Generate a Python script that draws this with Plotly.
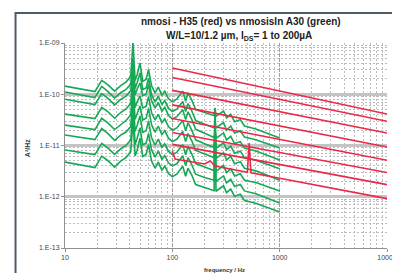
import plotly.graph_objects as go

# ---------------- data ----------------
FREQ_GREEN = [10, 14, 19, 22, 25, 29, 33, 37, 41, 43, 45, 47, 50, 53, 57, 60, 64, 69, 74, 80,
              85, 92, 100, 110, 125, 133, 140, 152, 165, 200, 245, 250, 255, 300, 320, 350,
              380, 430, 470, 600, 1000]

GREEN_1 = [1.44e-10, 1.27e-10, 1.13e-10, 1.87e-10, 1.54e-10, 1.15e-10, 1.47e-10, 1.73e-10, 2.24e-10, 1.05e-9,
           1.85e-10, 2.4e-10, 4.07e-10, 1.8e-10, 1.95e-10, 3.04e-10, 1.47e-10, 1.06e-10, 1.38e-10, 9.5e-11,
           1.15e-10, 8.25e-11, 7.1e-11, 8.0e-11, 1.15e-10, 7.3e-11, 1.06e-10, 7.6e-11, 5.0e-11, 4.4e-11,
           3.8e-11, 5.4e-11, 3.7e-11, 4.7e-11, 3.45e-11, 4.05e-11, 2.9e-11, 3.2e-11, 2.4e-11, 2.1e-11, 1.4e-11]
GREEN_2 = [1.11e-10, 9.7e-11, 8.6e-11, 1.42e-10, 1.14e-10, 8.4e-11, 1.07e-10, 1.24e-10, 1.58e-10, 5.1e-10,
           1.29e-10, 1.67e-10, 2.6e-10, 1.24e-10, 1.33e-10, 2.06e-10, 9.8e-11, 7.06e-11, 9.2e-11, 6.3e-11,
           7.5e-11, 5.35e-11, 4.6e-11, 5.1e-11, 7.2e-11, 4.6e-11, 6.6e-11, 4.7e-11, 3.07e-11, 2.6e-11,
           2.2e-11, 3.4e-11, 2.2e-11, 2.8e-11, 2.0e-11, 2.4e-11, 1.75e-11, 1.94e-11, 1.46e-11, 1.3e-11, 8.9e-12]
GREEN_3 = [8.0e-11, 7.1e-11, 6.3e-11, 1.03e-10, 8.4e-11, 6.2e-11, 7.9e-11, 9.2e-11, 1.18e-10, 3.55e-10,
           9.7e-11, 1.26e-10, 1.66e-10, 9.4e-11, 1.0e-10, 1.56e-10, 7.5e-11, 5.4e-11, 6.9e-11, 4.7e-11,
           5.55e-11, 3.9e-11, 3.3e-11, 3.65e-11, 5.0e-11, 3.2e-11, 4.55e-11, 3.2e-11, 2.07e-11, 1.73e-11,
           1.43e-11, 2.4e-11, 1.38e-11, 1.76e-11, 1.29e-11, 1.51e-11, 1.09e-11, 1.19e-11, 8.9e-12, 7.85e-12, 5.2e-12]
GREEN_4 = [4.1e-11, 3.7e-11, 3.35e-11, 5.55e-11, 4.6e-11, 3.4e-11, 4.4e-11, 5.15e-11, 6.65e-11, 2.27e-10,
           5.5e-11, 7.1e-11, 9.2e-11, 5.4e-11, 5.8e-11, 9.0e-11, 4.4e-11, 3.15e-11, 4.05e-11, 2.76e-11,
           3.3e-11, 2.34e-11, 1.99e-11, 2.2e-11, 3.06e-11, 1.94e-11, 2.78e-11, 1.97e-11, 1.29e-11, 1.08e-11,
           9.1e-12, 2.4e-11, 8.8e-12, 1.13e-11, 8.3e-12, 9.75e-12, 7.05e-12, 7.75e-12, 5.8e-12, 5.15e-12, 3.5e-12]
GREEN_5 = [2.5e-11, 2.25e-11, 2.04e-11, 3.4e-11, 2.76e-11, 2.05e-11, 2.6e-11, 3.07e-11, 3.95e-11, 1.45e-10,
           3.25e-11, 4.2e-11, 5.9e-11, 3.15e-11, 3.4e-11, 5.3e-11, 2.55e-11, 1.83e-11, 2.38e-11, 1.63e-11,
           1.95e-11, 1.39e-11, 1.19e-11, 1.32e-11, 1.87e-11, 1.19e-11, 1.71e-11, 1.22e-11, 8.0e-12, 6.8e-12,
           5.8e-12, 2.75e-11, 5.6e-12, 7.2e-12, 5.25e-12, 6.15e-12, 4.4e-12, 4.85e-12, 3.6e-12, 3.2e-12, 2.1e-12]
GREEN_6 = [1.6e-11, 1.44e-11, 1.3e-11, 2.14e-11, 1.72e-11, 1.26e-11, 1.59e-11, 1.83e-11, 2.34e-11, 9.2e-11,
           1.9e-11, 2.46e-11, 3.76e-11, 1.81e-11, 1.94e-11, 3.0e-11, 1.43e-11, 1.02e-11, 1.33e-11, 9.1e-12,
           1.08e-11, 7.75e-12, 6.65e-12, 7.35e-12, 1.04e-11, 6.6e-12, 9.5e-12, 6.8e-12, 4.45e-12, 3.8e-12,
           3.25e-12, 3.0e-11, 3.14e-12, 4.05e-12, 2.96e-12, 3.5e-12, 2.54e-12, 2.8e-12, 2.1e-12, 1.89e-12, 1.3e-12]
GREEN_7 = [8.2e-12, 7.35e-12, 6.65e-12, 1.1e-11, 9.0e-12, 6.7e-12, 8.55e-12, 1.0e-11, 1.29e-11, 5.4e-11,
           1.05e-11, 1.38e-11, 2.2e-11, 1.03e-11, 1.11e-11, 1.72e-11, 8.3e-12, 5.95e-12, 7.8e-12, 5.35e-12,
           6.4e-12, 4.6e-12, 4.0e-12, 4.4e-12, 6.3e-12, 4.05e-12, 5.8e-12, 4.2e-12, 2.75e-12, 2.38e-12,
           2.1e-12, 3.76e-11, 2.0e-12, 2.55e-12, 1.86e-12, 2.19e-12, 1.58e-12, 1.73e-12, 1.3e-12, 1.14e-12, 7.55e-13]
GREEN_8 = [4.75e-12, 4.2e-12, 3.7e-12, 6.2e-12, 5.1e-12, 3.8e-12, 4.95e-12, 5.8e-12, 7.6e-12, 3.15e-11,
           6.25e-12, 8.1e-12, 1.4e-11, 6.1e-12, 6.7e-12, 1.04e-11, 5.0e-12, 3.6e-12, 4.75e-12, 3.28e-12,
           3.95e-12, 2.85e-12, 2.45e-12, 2.75e-12, 3.95e-12, 2.52e-12, 3.6e-12, 2.62e-12, 1.73e-12, 1.52e-12,
           1.31e-12, 4.7e-11, 1.28e-12, 1.64e-12, 1.2e-12, 1.41e-12, 1.02e-12, 1.12e-12, 8.4e-13, 7.45e-13, 5.05e-13]

FREQ_RED = [100, 1000, 10000]
RED_1 = [3.25e-10, 1.16e-10, 4.1e-11]
RED_2 = [2.12e-10, 7.9e-11, 2.97e-11]
RED_3 = [1.19e-10, 4.6e-11, 1.75e-11]
RED_4 = [6.2e-11, 2.4e-11, 9.35e-12]
RED_5 = [3.36e-11, 1.32e-11, 5.15e-12]
RED_6 = [1.79e-11, 7.3e-12, 2.97e-12]
RED_7 = [1.05e-11, 4.25e-12, 1.72e-12]
FREQ_RED_8 = [100, 106, 200, 225, 250, 500, 520, 540, 1000, 10000]
RED_8 = [7.8e-12, 5.45e-12, 4.35e-12, 4.98e-12, 3.96e-12, 3.0e-12, 1.12e-11, 2.92e-12, 2.3e-12, 9.2e-13]

X_TICKS = [10, 100, 1000, 10000]
X_TICK_TEXT = ["10", "100", "1000", "10000"]
Y_TICKS = [1e-13, 1e-12, 1e-11, 1e-10, 1e-9]
Y_TICK_TEXT = ["1.E-13", "1.E-12", "1.E-11", "1.E-10", "1.E-09"]
MINOR_STEPS = [2, 3, 4, 5, 6, 7, 8, 9]

TITLE_1 = "nmosi - H35 (red) vs nmosisIn A30 (green)"
TITLE_2 = "W/L=10/1.2 µm, I<sub>DS</sub>= 1 to 200µA"
X_TITLE = "frequency / Hz"
Y_TITLE = "A²/Hz"

GREEN = "rgb(22,168,84)"
RED = "rgb(236,40,72)"
FONT = "Liberation Sans, Arial, sans-serif"

x_minor = [m * d for d in X_TICKS[:-1] for m in MINOR_STEPS]
y_minor = [m * d for d in Y_TICKS[:-1] for m in MINOR_STEPS]

# ---------------- figure ----------------
fig = go.Figure()
for g in [GREEN_1, GREEN_2, GREEN_3, GREEN_4, GREEN_5, GREEN_6, GREEN_7, GREEN_8]:
    fig.add_trace(go.Scatter(x=FREQ_GREEN, y=g, mode="lines",
                             line=dict(color=GREEN, width=1.6), showlegend=False))
for r in [RED_1, RED_2, RED_3, RED_4, RED_5, RED_6, RED_7]:
    fig.add_trace(go.Scatter(x=FREQ_RED, y=r, mode="lines",
                             line=dict(color=RED, width=1.6), showlegend=False))
fig.add_trace(go.Scatter(x=FREQ_RED_8, y=RED_8, mode="lines",
                         line=dict(color=RED, width=1.6), showlegend=False))

L, R, T, B = 57, 11, 35, 33
W, H = 400, 273
pw, ph = W - L - R, H - T - B

def px(x):
    return (x - L) / pw

def py(y):
    return (H - B - y) / ph

fig.update_layout(
    width=W, height=H,
    margin=dict(l=L, r=R, t=T, b=B),
    paper_bgcolor="white", plot_bgcolor="white",
    font=dict(family=FONT, size=7, color="#333"),
    showlegend=False,
    xaxis=dict(type="log", range=[1, 4], tickmode="array", tickvals=X_TICKS, ticktext=X_TICK_TEXT,
               showgrid=True, gridcolor="#a0a0a0", gridwidth=1, griddash="4px,1px",
               showline=True, linecolor="#909090", linewidth=1,
               ticks="outside", ticklen=3, tickcolor="#909090",
               tickfont=dict(size=7, color="#444"), ticklabeloverflow="allow",
               minor=dict(tickmode="array", tickvals=x_minor, showgrid=True, gridcolor="#bcbcbc",
                          griddash="2px,2px", gridwidth=0.8, ticks=""),
               zeroline=False),
    yaxis=dict(type="log", range=[-13, -9], tickmode="array", tickvals=Y_TICKS, ticktext=Y_TICK_TEXT,
               showgrid=True, gridcolor="#c4c4c4", gridwidth=3,
               showline=True, linecolor="#909090", linewidth=1,
               ticks="outside", ticklen=3, tickcolor="#909090",
               tickfont=dict(size=7, color="#444"),
               minor=dict(tickmode="array", tickvals=y_minor, showgrid=True, gridcolor="#bcbcbc",
                          griddash="2px,2px", gridwidth=0.8, ticks=""),
               zeroline=False),
    annotations=[
        dict(text="<b>" + TITLE_1 + "</b>", xref="paper", yref="paper", x=px(238), y=py(14),
             showarrow=False, font=dict(size=10, color="#222", family=FONT), xanchor="center", yanchor="middle"),
        dict(text="<b>" + TITLE_2 + "</b>", xref="paper", yref="paper", x=px(236), y=py(28),
             showarrow=False, font=dict(size=10, color="#222", family=FONT), xanchor="center", yanchor="middle"),
        dict(text="<b>" + X_TITLE + "</b>", xref="paper", yref="paper", x=px(221), y=py(262),
             showarrow=False, font=dict(size=6, color="#333", family=FONT), xanchor="center", yanchor="middle"),
        dict(text="<b>" + Y_TITLE + "</b>", xref="paper", yref="paper", x=px(18), y=py(140),
             showarrow=False, textangle=-90, font=dict(size=7, color="#333", family=FONT),
             xanchor="center", yanchor="middle"),
    ],
    shapes=[
        dict(type="rect", xref="paper", yref="paper", x0=px(6), x1=px(397), y0=py(290), y1=py(5),
             line=dict(color="#4d5b6a", width=2), fillcolor="rgba(0,0,0,0)", layer="below"),
    ],
)

fig.write_html("out.html")
